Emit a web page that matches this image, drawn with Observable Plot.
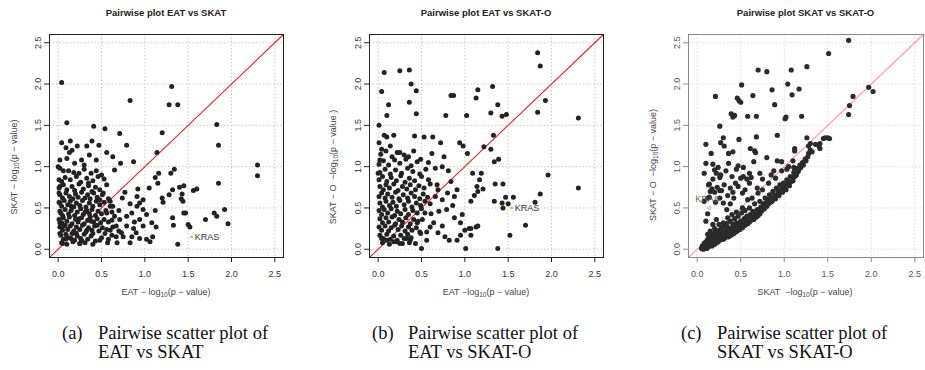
<!DOCTYPE html>
<html><head><meta charset="utf-8">
<script src="https://cdn.jsdelivr.net/npm/d3@7"></script>
<script src="https://cdn.jsdelivr.net/npm/@observablehq/plot@0.6"></script>
<style>
body{margin:0;background:#fff;}
#root{position:relative;width:925px;height:370px;overflow:hidden;font-family:"Liberation Sans",Arial,sans-serif;}
.panel{position:absolute;top:0;}
.title{position:absolute;top:7px;font-weight:bold;font-size:9.5px;color:#222;transform:translateX(-50%);white-space:nowrap;}
.xlab{position:absolute;font-size:9px;color:#444;transform:translate(-50%,-50%);white-space:nowrap;}
.ylab{position:absolute;font-size:9px;color:#444;transform:translate(-50%,-50%) rotate(-90deg);white-space:nowrap;}
sub{font-size:6.5px;vertical-align:-2px;}
.cap{position:absolute;top:324px;font-family:"Liberation Serif","Times New Roman",serif;font-size:18.5px;color:#111;line-height:18.5px;white-space:nowrap;}
</style></head>
<body><div id="root"></div>
<script>
const axisTicks = [0, 0.5, 1, 1.5, 2, 2.5];
const axisDomain = [-0.1, 2.6];
const panelTitles = ["Pairwise plot EAT  vs SKAT", "Pairwise plot EAT  vs SKAT-O", "Pairwise plot SKAT vs SKAT-O"];
const xLabels = ["EAT \u2212 log<sub>10</sub>(p \u2212 value)", "EAT \u2212log<sub>10</sub>(p \u2212 value)", "SKAT &nbsp;\u2212log<sub>10</sub>(p \u2212 value)"];
const yLabels = ["SKAT \u2212 log<sub>10</sub>(p \u2212 value)", "SKAT \u2212 O &nbsp;\u2212log<sub>10</sub>(p \u2212 value )", "SKAT \u2212 O &nbsp;\u2212log<sub>10</sub>(p \u2212 value)"];
const captionTags = ["(a)", "(b)", "(c)"];
const captionLines = [["Pairwise scatter plot of", "EAT vs SKAT"], ["Pairwise scatter plot of", "EAT vs SKAT-O"], ["Pairwise scatter plot of", "SKAT vs SKAT-O"]];
const krasPoints = [[1.54, 0.15], [1.54, 0.50], [0.14, 0.50]];

// Panel (a): EAT (x) vs SKAT (y)
const eatVsSkat = [
[0.04,2.02],[1.31,1.97],[0.83,1.80],[1.28,1.75],[1.38,1.75],[0.10,1.53],[0.41,1.49],[0.54,1.46],[0.71,1.40],[1.20,1.41],
[1.83,1.51],[1.85,1.26],[0.79,1.26],[1.14,1.17],[0.47,1.26],[0.39,1.31],[2.30,1.02],[2.30,0.89],[1.85,0.80],[0.87,1.06],
[0.72,1.04],[0.63,1.12],[0.56,1.17],[0.22,1.25],[0.33,1.25],[0.14,1.31],[0.04,1.29],[0.09,1.23],[0.13,1.17],[0.02,1.08],
[0.00,1.00],[0.19,1.04],[0.27,1.08],[0.36,1.14],[0.44,1.08],[0.65,0.96],[1.16,0.92],[1.30,0.92],[1.34,0.97],[1.12,0.87],
[1.15,0.80],[1.40,0.75],[1.45,0.77],[1.56,0.71],[1.60,0.73],[1.32,0.72],[1.28,0.66],[1.43,0.67],[1.20,0.62],[1.21,0.57],
[1.42,0.61],[1.44,0.58],[1.05,0.74],[0.92,0.73],[0.77,0.69],[0.91,0.64],[0.98,0.60],[0.94,0.56],[1.12,0.47],[1.45,0.44],
[1.47,0.44],[1.80,0.44],[1.83,0.40],[1.92,0.48],[1.70,0.36],[1.32,0.38],[1.33,0.29],[1.50,0.30],[1.52,0.27],[1.96,0.31],
[1.38,0.06],[1.08,0.32],[1.13,0.27],[1.09,0.15],[1.06,0.09],[1.02,0.12],[0.94,0.13],[0.87,0.25],[0.98,0.28],[0.85,0.15],
[0.75,0.15],[0.67,0.15],[0.60,0.23],[0.48,0.11],[0.56,0.44],[0.65,0.40],[0.71,0.36],[0.79,0.40],[0.85,0.44],[0.91,0.52],
[0.98,0.48],[1.02,0.42],[0.63,0.52],[0.48,0.60],[0.60,0.58],[0.52,0.68],[0.79,0.28],[0.94,0.36],[0.67,0.28],[0.40,0.19],
[0.33,0.23],[0.27,0.11],[0.21,0.19],[0.15,0.13],[0.25,0.07],[0.05,0.07],[0.09,0.13],[0.02,0.19],[0.02,0.32],[0.03,0.44],
[0.02,0.56],[0.01,0.68],[0.02,0.76],[0.01,0.84],[0.10,1.10],[0.16,1.20],[0.30,1.02],
[0.74,0.62],[0.83,0.55],[0.70,0.47],[0.88,0.33],[0.73,0.20],[0.62,0.35],[0.83,0.08],[0.57,0.08],[0.68,0.08],[0.90,0.20],
[0.06,0.95],[0.24,0.92],[0.35,0.80],[0.15,0.52],[0.31,0.45],[0.07,0.28],[0.38,0.34],[0.24,0.37],[0.45,0.29],[0.54,0.19],
[0.02,0.98],[0.12,0.95],[0.18,0.93],[0.30,0.97],[0.38,0.92],[0.44,0.95],[0.50,0.90],
[0.04,0.82],[0.08,0.87],[0.14,0.84],[0.21,0.88],[0.26,0.81],[0.33,0.86],[0.40,0.83],[0.46,0.88],[0.53,0.85],
[0.01,0.74],[0.06,0.78],[0.10,0.72],[0.16,0.76],[0.19,0.71],[0.24,0.79],[0.29,0.73],[0.35,0.77],[0.39,0.70],[0.43,0.75],[0.48,0.72],[0.56,0.78],
[0.02,0.66],[0.05,0.62],[0.09,0.68],[0.13,0.64],[0.17,0.61],[0.20,0.67],[0.23,0.63],[0.27,0.69],[0.31,0.62],[0.34,0.66],[0.37,0.61],[0.41,0.68],[0.45,0.63],[0.51,0.66],[0.58,0.61],
[0.01,0.57],[0.04,0.52],[0.07,0.59],[0.11,0.54],[0.14,0.58],[0.18,0.51],[0.21,0.56],[0.25,0.53],[0.28,0.59],[0.32,0.51],[0.36,0.56],[0.40,0.52],[0.44,0.58],[0.48,0.54],[0.53,0.57],[0.60,0.52],
[0.02,0.46],[0.05,0.41],[0.08,0.48],[0.12,0.43],[0.15,0.47],[0.19,0.41],[0.22,0.45],[0.26,0.49],[0.29,0.42],[0.33,0.47],[0.36,0.43],[0.39,0.48],[0.43,0.41],[0.46,0.46],[0.50,0.43],[0.55,0.47],[0.62,0.45],
[0.01,0.36],[0.04,0.32],[0.06,0.38],[0.10,0.34],[0.13,0.39],[0.16,0.31],[0.20,0.36],[0.23,0.33],[0.27,0.38],[0.30,0.31],[0.34,0.35],[0.37,0.39],[0.41,0.33],[0.45,0.37],[0.49,0.32],[0.53,0.36],[0.58,0.33],
[0.02,0.27],[0.05,0.23],[0.08,0.29],[0.11,0.24],[0.14,0.28],[0.18,0.22],[0.21,0.27],[0.25,0.24],[0.28,0.29],[0.32,0.21],[0.35,0.26],[0.39,0.23],[0.42,0.28],[0.47,0.22],[0.51,0.26],[0.56,0.24],[0.63,0.27],[0.70,0.22],
[0.03,0.17],[0.06,0.12],[0.09,0.18],[0.12,0.14],[0.16,0.19],[0.19,0.11],[0.22,0.16],[0.26,0.13],[0.30,0.18],[0.34,0.12],[0.38,0.16],[0.43,0.10],[0.50,0.14],[0.58,0.12],[0.62,0.17],
[0.04,0.08],[0.10,0.06],[0.17,0.09],[0.25,0.07],[0.31,0.08],[0.40,0.06]
];

// Panel (b): EAT (x) vs SKAT-O (y)
const eatVsSkatO = [
[1.84,2.38],[1.87,2.22],[0.07,2.14],[0.25,2.16],[0.36,2.17],[0.38,2.00],[0.44,1.92],[0.04,1.91],[0.12,1.75],[0.36,1.78],
[0.10,1.62],[0.44,1.64],[0.01,1.50],[0.84,1.86],[0.87,1.86],[0.78,1.62],[1.02,1.62],[1.15,1.93],[1.13,1.83],[1.32,1.97],
[1.38,1.75],[1.30,1.65],[1.43,1.61],[1.48,1.63],[1.84,1.66],[1.93,1.80],[2.31,1.59],[2.31,0.74],[1.96,0.90],[1.87,0.67],
[1.70,0.29],[1.52,0.17],[1.38,0.01],[1.01,0.01],[0.50,0.01],[1.33,1.38],[1.22,1.24],[1.30,1.21],[1.34,1.06],[1.39,1.09],
[1.09,0.92],[1.19,0.92],[1.17,0.84],[1.14,0.76],[1.15,0.70],[1.21,0.73],[1.11,0.65],[1.07,0.58],[1.35,0.79],[1.44,0.79],
[1.34,0.58],[1.43,0.56],[1.47,0.63],[1.50,0.55],[1.44,0.50],[1.56,0.63],[1.81,0.57],[1.07,0.25],[1.13,0.27],[1.07,0.17],
[1.03,1.16],[0.94,1.29],[0.98,1.25],[0.72,1.29],[0.63,1.36],[0.53,1.36],[0.42,1.37],[0.76,1.12],[0.74,1.00],[0.62,1.16],
[0.49,1.09],[0.35,1.12],[0.25,1.17],[0.14,1.25],[0.07,1.38],[0.10,1.36],[0.18,1.38],[0.01,1.29],[0.04,1.21],[0.02,1.08],
[0.00,0.92],[0.84,0.82],[0.91,0.72],[0.88,0.64],[0.74,0.60],[0.80,0.68],[0.66,0.64],[0.60,0.55],[0.70,0.46],[0.64,0.32],
[0.74,0.28],[0.77,0.15],[0.82,0.11],[0.91,0.11],[0.95,0.17],[1.00,0.23],[1.05,0.25],[1.15,0.28],[0.97,0.42],[0.95,0.32],
[0.88,0.38],[0.56,0.21],[0.56,0.11],[0.49,0.19],[0.45,0.32],[0.51,0.36],[0.54,0.44],[0.43,0.07],[0.37,0.11],[0.33,0.13],
[0.25,0.07],[0.18,0.09],[0.10,0.11],[0.04,0.13],
[0.68,0.78],[0.66,0.98],[0.58,1.05],[0.81,0.95],[0.69,0.72],[0.79,0.48],[0.61,0.43],[0.86,0.53],[0.69,0.20],[0.60,0.27],
[0.03,1.15],[0.09,1.19],[0.16,1.12],[0.22,1.17],[0.30,1.14],[0.41,1.19],
[0.01,1.03],[0.06,1.07],[0.12,1.02],[0.19,1.08],[0.25,1.04],[0.32,1.09],[0.38,1.01],[0.45,1.06],
[0.02,0.93],[0.08,0.97],[0.14,0.91],[0.20,0.96],[0.27,0.92],[0.34,0.98],[0.40,0.94],[0.48,0.91],[0.55,0.97],
[0.01,0.84],[0.05,0.88],[0.10,0.82],[0.15,0.87],[0.21,0.83],[0.26,0.89],[0.31,0.81],[0.36,0.86],[0.42,0.83],[0.50,0.88],[0.58,0.84],
[0.02,0.76],[0.06,0.72],[0.09,0.78],[0.13,0.74],[0.18,0.79],[0.23,0.71],[0.28,0.76],[0.33,0.73],[0.37,0.78],[0.43,0.72],[0.47,0.77],[0.53,0.74],[0.60,0.79],
[0.01,0.64],[0.04,0.68],[0.08,0.62],[0.11,0.67],[0.16,0.63],[0.20,0.69],[0.24,0.61],[0.29,0.66],[0.34,0.62],[0.38,0.68],[0.42,0.64],[0.48,0.61],[0.52,0.67],[0.57,0.63],
[0.02,0.56],[0.05,0.51],[0.09,0.58],[0.13,0.53],[0.17,0.57],[0.21,0.52],[0.25,0.59],[0.30,0.54],[0.35,0.58],[0.39,0.51],[0.44,0.56],[0.49,0.53],[0.54,0.58],
[0.01,0.47],[0.04,0.42],[0.07,0.48],[0.11,0.44],[0.15,0.49],[0.19,0.41],[0.22,0.46],[0.26,0.43],[0.31,0.48],[0.35,0.42],[0.40,0.47],[0.45,0.44],[0.50,0.49],
[0.02,0.37],[0.05,0.32],[0.09,0.38],[0.12,0.33],[0.16,0.39],[0.20,0.31],[0.24,0.36],[0.28,0.33],[0.32,0.38],[0.37,0.31],[0.41,0.36],[0.46,0.34],
[0.01,0.27],[0.04,0.23],[0.08,0.28],[0.12,0.22],[0.15,0.26],[0.19,0.29],[0.23,0.24],[0.27,0.28],[0.31,0.22],[0.35,0.27],[0.39,0.23],[0.44,0.26],[0.48,0.21],
[0.02,0.17],[0.06,0.13],[0.10,0.18],[0.14,0.12],[0.18,0.16],[0.22,0.11],[0.26,0.17],[0.30,0.13],[0.34,0.18],[0.38,0.14],
[0.05,0.08],[0.13,0.06],[0.21,0.09],[0.28,0.07],[0.36,0.08]
];

// Panel (c): SKAT (x) vs SKAT-O (y)
const skatVsSkatO = [
[1.74,2.53],[1.51,2.37],[1.26,2.21],[0.70,2.17],[0.80,2.15],[1.08,2.17],[1.04,2.00],[0.51,1.99],[1.97,1.96],[2.02,1.91],
[1.79,1.85],[1.75,1.74],[1.74,1.63],[1.17,1.94],[1.09,1.87],[0.86,1.93],[0.89,1.75],[0.64,1.86],[0.21,1.85],[0.46,1.83],
[0.48,1.80],[0.50,1.78],[0.39,1.64],[0.43,1.62],[0.41,1.60],[0.58,1.61],[0.68,1.61],[1.01,1.58],[1.02,1.60],[1.20,1.61],
[0.26,1.49],[0.92,1.38],[0.68,1.36],[0.48,1.33],[0.30,1.35],[0.27,1.29],[0.10,1.27],[0.31,1.25],[0.16,1.16],[0.36,1.16],
[0.41,1.18],[0.61,1.22],[0.66,1.19],[0.67,1.17],[0.80,1.11],[0.92,1.07],[0.97,1.06],[1.12,1.22],[1.12,1.19],[1.26,1.35],
[1.30,1.28],[1.28,1.25],[1.41,1.28],[1.41,1.22],[1.47,1.35],[1.50,1.35],[1.52,1.34],[0.10,1.04],[0.08,0.92],[0.14,0.79],
[0.18,1.03],[0.22,0.92],[0.26,0.87],[0.36,1.04],[0.47,1.01],[0.53,0.99],[0.65,1.06],[0.60,0.92],[0.72,0.92],[0.88,0.95],
[1.03,0.97],[1.11,0.99],[0.26,0.71],[0.21,0.57],[0.12,0.43],[0.10,0.34],
[0.12,0.62],[0.15,0.70],[0.17,0.73],[0.20,0.69],[0.23,0.75],[0.28,0.71],[0.31,0.78],[0.35,0.65],[0.38,0.74],[0.41,0.69],
[0.44,0.80],[0.47,0.76],[0.50,0.86],[0.53,0.88],[0.57,0.85],[0.62,0.87],[0.27,0.90],[0.24,0.99],[0.33,0.95],[0.40,0.88],
[0.45,0.97],[0.18,0.85],[0.20,0.96],[0.14,0.63],[0.08,0.58],[0.13,0.78],[0.30,0.56],[0.26,0.62],[0.34,0.48],[0.38,0.55],
[0.42,0.62],[0.52,0.68],[0.55,0.72],[0.60,0.80],[0.69,0.74],[0.75,0.85],[0.85,0.90],[0.18,0.30],[0.22,0.36],
[0.05,0.01],[0.06,0.04],[0.07,0.00],[0.08,0.03],[0.08,0.07],[0.09,0.02],[0.10,0.05],[0.10,0.09],[0.11,0.01],[0.12,0.06],
[0.12,0.12],[0.13,0.03],[0.14,0.08],[0.14,0.14],[0.15,0.05],[0.16,0.10],[0.16,0.17],[0.17,0.04],[0.18,0.08],[0.18,0.13],
[0.19,0.19],[0.20,0.06],[0.20,0.11],
[0.21,0.15],[0.22,0.08],[0.22,0.21],[0.23,0.12],[0.24,0.17],[0.24,0.09],[0.25,0.23],[0.26,0.11],[0.26,0.15],[0.27,0.19],
[0.28,0.13],[0.28,0.26],[0.29,0.16],[0.30,0.12],[0.30,0.21],[0.31,0.28],[0.32,0.14],[0.32,0.18],[0.33,0.23],[0.34,0.16],
[0.34,0.31],[0.35,0.20],[0.36,0.15],[0.36,0.26],[0.37,0.19],[0.38,0.22],[0.38,0.34],[0.39,0.17],[0.40,0.25],[0.40,0.20],
[0.41,0.30],[0.42,0.19],[0.42,0.23],[0.43,0.37],[0.44,0.21],[0.44,0.27],[0.45,0.32],[0.46,0.22],[0.47,0.25],[0.47,0.40],
[0.48,0.29],[0.49,0.24],[0.50,0.27],[0.50,0.34],[0.51,0.44],[0.52,0.26],[0.53,0.30],[0.54,0.37],[0.55,0.29],[0.55,0.47],
[0.56,0.33],[0.57,0.40],[0.58,0.31],[0.59,0.36],[0.60,0.33],[0.60,0.50],
[0.61,0.42],[0.62,0.35],[0.63,0.38],[0.64,0.46],[0.65,0.36],[0.66,0.40],[0.66,0.55],[0.67,0.43],[0.68,0.39],[0.69,0.48],
[0.70,0.41],[0.71,0.45],[0.72,0.58],[0.72,0.43],[0.73,0.51],[0.74,0.46],[0.75,0.48],[0.76,0.55],[0.77,0.49],[0.78,0.62],
[0.78,0.51],[0.79,0.56],[0.80,0.52],
[0.81,0.60],[0.82,0.55],[0.83,0.66],[0.84,0.57],[0.85,0.62],[0.86,0.58],[0.87,0.70],[0.88,0.62],[0.89,0.65],[0.90,0.61],
[0.91,0.74],[0.92,0.66],[0.93,0.70],[0.94,0.65],[0.95,0.78],[0.96,0.70],[0.97,0.73],[0.98,0.69],[0.99,0.80],[1.00,0.74],
[1.01,0.77],[1.02,0.72],[1.03,0.84],[1.04,0.78],[1.05,0.81],[1.06,0.77],[1.07,0.88],[1.08,0.82],[1.09,0.86],[1.10,0.83],
[1.11,0.93],[1.12,0.88],[1.13,0.92],[1.14,0.90],[1.15,0.98],[1.16,0.94],[1.17,0.97],[1.18,1.02],[1.19,0.99],[1.21,1.05],
[1.22,1.02],[1.24,1.09],[1.25,1.07],[1.27,1.12],[1.28,1.16],[1.30,1.20],[1.32,1.18],[1.36,1.27],[1.40,1.25],[1.45,1.34],
[0.30,0.32],[0.35,0.38],[0.45,0.45],[0.52,0.50],[0.58,0.60],[0.63,0.62],[0.70,0.68],[0.75,0.72],[0.82,0.80],[0.90,0.86],
[0.97,0.95],[1.05,1.00],[1.10,1.07],[0.40,0.42],[0.25,0.30],[0.20,0.25],[0.15,0.22],[0.12,0.18]
];

const panels = [
  {data: eatVsSkat, left: 0, width: 310, ml: 49, mr: 27, fill: "#222", r: 2.5, frame: "#222", tick: "#333", diag: "#ee2222", diagOp: 1, grid: "#c8c8c8"},
  {data: eatVsSkatO, left: 310, width: 310, ml: 59, mr: 17, fill: "#222", r: 2.5, frame: "#222", tick: "#333", diag: "#ee2222", diagOp: 1, grid: "#c8c8c8"},
  {data: skatVsSkatO, left: 620, width: 305, ml: 68, mr: 2, fill: "#2b2b2b", r: 2.6, frame: "#8a8a8a", tick: "#555", diag: "#ff8080", diagOp: 0.8, grid: "#dddddd"}
];
const labelPos = [{xl: 166, yl: 14, yc: 167}, {xl: 486, yl: 333, yc: 167}, {xl: 805, yl: 653, yc: 165}];
const capPos = [62, 372, 681];

const root = document.getElementById("root");
const fmt = d3.format(".1f");
const diagLine = axisDomain.map(v => [v, v]);

panels.forEach((p, i) => {
  const marks = [
    Plot.gridX(axisTicks, {stroke: p.grid, strokeOpacity: 1, strokeDasharray: "1.5,2"}),
    Plot.gridY(axisTicks, {stroke: p.grid, strokeOpacity: 1, strokeDasharray: "1.5,2"}),
    Plot.line(diagLine, {x: d => d[0], y: d => d[1], stroke: p.diag, strokeOpacity: p.diagOp, strokeWidth: 1.1}),
    Plot.dot(p.data, {x: d => d[0], y: d => d[1], r: p.r, fill: p.fill, stroke: null})
  ];
  const k = krasPoints[i];
  if (i < 2) {
    marks.push(Plot.dot([k], {x: d => d[0], y: d => d[1], r: 1.4, fill: "#f5b041"}));
    marks.push(Plot.text([k], {x: d => d[0], y: d => d[1], text: () => "KRAS", textAnchor: "start", dx: 3, fill: "#333", fontSize: 9}));
  } else {
    marks.push(Plot.dot([k], {x: d => d[0], y: d => d[1], r: 1.8, fill: "#f3e6b0", stroke: "#999", strokeWidth: 0.6}));
    marks.push(Plot.text([k], {x: d => d[0], y: d => d[1], text: () => "KRAS", textAnchor: "middle", dx: -2, dy: -9, fill: "#666", fontSize: 9}));
  }
  marks.push(Plot.frame({stroke: p.frame, strokeWidth: 1}));
  marks.push(Plot.axisX(axisTicks, {tickSize: 5, tickPadding: 8, tickFormat: fmt, label: null, stroke: p.frame, fill: p.tick}));
  marks.push(Plot.axisY(axisTicks, {tickSize: 5, tickPadding: 4, tickRotate: -90, tickFormat: fmt, label: null, stroke: p.frame, fill: p.tick}));
  const svg = Plot.plot({
    width: p.width, height: 300,
    marginLeft: p.ml, marginRight: p.mr, marginTop: 34, marginBottom: 43,
    x: {domain: axisDomain}, y: {domain: axisDomain},
    style: {fontFamily: "'Liberation Sans', Arial, sans-serif", fontSize: "9px", background: "transparent", overflow: "visible"},
    marks
  });
  const wrap = document.createElement("div");
  wrap.className = "panel";
  wrap.style.left = p.left + "px";
  wrap.appendChild(svg);
  root.appendChild(wrap);

  const t = document.createElement("div");
  t.className = "title";
  t.style.left = (p.left + p.ml + (p.width - p.ml - p.mr) / 2) + "px";
  t.textContent = panelTitles[i];
  root.appendChild(t);

  const xl = document.createElement("div");
  xl.className = "xlab";
  xl.style.left = labelPos[i].xl + "px";
  xl.style.top = "292px";
  xl.innerHTML = xLabels[i];
  root.appendChild(xl);

  const yl = document.createElement("div");
  yl.className = "ylab";
  yl.style.left = labelPos[i].yl + "px";
  yl.style.top = labelPos[i].yc + "px";
  yl.innerHTML = yLabels[i];
  root.appendChild(yl);

  const ct = document.createElement("div");
  ct.className = "cap";
  ct.style.left = capPos[i] + "px";
  ct.textContent = captionTags[i];
  root.appendChild(ct);
  const cl = document.createElement("div");
  cl.className = "cap";
  cl.style.left = (capPos[i] + 36) + "px";
  cl.innerHTML = captionLines[i].join("<br>");
  root.appendChild(cl);
});
</script>
</body></html>
